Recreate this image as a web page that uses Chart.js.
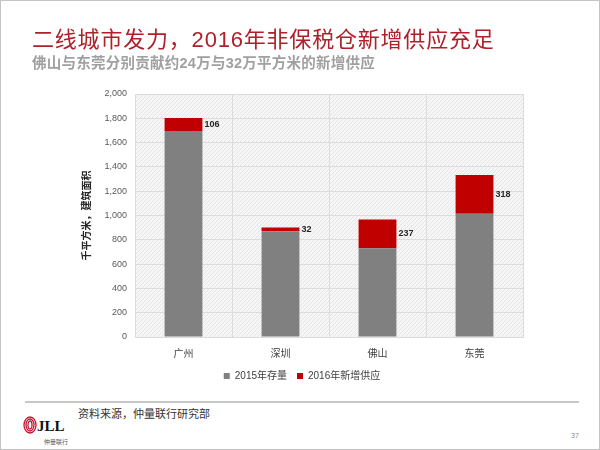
<!DOCTYPE html>
<html>
<head>
<meta charset="utf-8">
<script src="https://cdn.jsdelivr.net/npm/chart.js@4/dist/chart.umd.min.js"></script>
<style>
	html, body { margin: 0; padding: 0; background: #fff; }
	#page {
		position: relative; width: 600px; height: 450px; overflow: hidden;
		box-sizing: border-box; border: 1px solid #c4c4c4;
		font-family: "Liberation Sans", "Noto Sans CJK SC", sans-serif;
	}
	#chartBox { position: absolute; left: 0; top: 0; width: 600px; height: 390px; }
	.txt { position: absolute; white-space: nowrap; line-height: 1; }
	#title { left: 31px; top: 28px; font-size: 22px; letter-spacing: 0.8px; color: #b0202a; }
	#subtitle { left: 31px; top: 55px; font-size: 14.5px; letter-spacing: 0.25px; color: #a0a0a0; font-weight: bold; }
	#rule { position: absolute; left: 24px; top: 400px; width: 554px; height: 2px; background: #c8c8c8; }
	#source { left: 77px; top: 408px; font-size: 11px; color: #333; }
	#logo { position: absolute; left: 22px; top: 415px; }
	#logoSub { left: 43px; top: 438px; font-size: 6px; color: #555; }
	#pageNo { left: 570px; top: 431px; font-size: 7px; color: #888; }
</style>
</head>
<body>
<div id="page">
	<div id="chartBox"><canvas id="supplyChart"></canvas></div>
	<div class="txt" id="title">二线城市发力，2016年非保税仓新增供应充足</div>
	<div class="txt" id="subtitle">佛山与东莞分别贡献约24万与32万平方米的新增供应</div>
	<div id="rule"></div>
	<svg id="logo" width="50" height="18" viewBox="0 0 50 18">
		<ellipse cx="7" cy="9" rx="6" ry="8" fill="none" stroke="#c8102e" stroke-width="1.3"/>
		<ellipse cx="7" cy="9" rx="4" ry="6" fill="none" stroke="#c8102e" stroke-width="1.3"/>
		<ellipse cx="7" cy="9" rx="2" ry="4" fill="none" stroke="#c8102e" stroke-width="1.3"/>
		<text x="14" y="15" font-family="Liberation Serif" font-weight="bold" font-size="15" fill="#111">JLL</text>
	</svg>
	<div class="txt" id="source">资料来源，仲量联行研究部</div>
	<div class="txt" id="logoSub">仲量联行</div>
	<div class="txt" id="pageNo">37</div>
</div>
<script>
const cities = ["广州", "深圳", "佛山", "东莞"];
const stock2015 = [1696, 870, 730, 1015];
const supply2016 = [106, 32, 237, 318];
const seriesNames = ["2015年存量", "2016年新增供应"];
const yAxisTitle = "千平方米，建筑面积";
const yMax = 2000;
const yStep = 200;

const fontFamily = "'Liberation Sans', 'Noto Sans CJK SC', sans-serif";

// light diagonal hatch used behind the bars
function makeHatch() {
	const c = document.createElement("canvas");
	c.width = 4;
	c.height = 4;
	const g = c.getContext("2d");
	g.fillStyle = "#f6f6f6";
	g.fillRect(0, 0, 4, 4);
	g.strokeStyle = "#e4e4e4";
	g.lineWidth = 1;
	g.beginPath();
	g.moveTo(0, 4);
	g.lineTo(4, 0);
	g.stroke();
	return g.createPattern(c, "repeat");
}

const hatchPlugin = {
	id: "hatch",
	beforeDraw(chart) {
		const { ctx, chartArea } = chart;
		ctx.save();
		ctx.fillStyle = makeHatch();
		ctx.fillRect(chartArea.left, chartArea.top, chartArea.right - chartArea.left, chartArea.bottom - chartArea.top);
		ctx.restore();
	}
};

// value of the red segment, written to the right of it
const supplyLabels = {
	id: "supplyLabels",
	afterDatasetsDraw(chart) {
		const ctx = chart.ctx;
		const meta = chart.getDatasetMeta(1);
		ctx.save();
		ctx.font = "bold 9px " + fontFamily;
		ctx.fillStyle = "#262626";
		ctx.textAlign = "left";
		ctx.textBaseline = "middle";
		meta.data.forEach((bar, i) => {
			const p = bar.getProps(["x", "y", "base", "width"], true);
			ctx.fillText(supply2016[i], p.x + p.width / 2 + 2, (p.y + p.base) / 2);
		});
		ctx.restore();
	}
};

const supplyCtx = document.getElementById("supplyChart");
const supplyChart = new Chart(supplyCtx, {
	type: "bar",
	data: {
		labels: cities,
		datasets: [{
			label: seriesNames[0],
			data: stock2015,
			backgroundColor: "#808080",
			barPercentage: 0.78,
			categoryPercentage: 0.5
		}, {
			label: seriesNames[1],
			data: supply2016,
			backgroundColor: "#c00000",
			barPercentage: 0.78,
			categoryPercentage: 0.5
		}]
	},
	options: {
		responsive: true,
		maintainAspectRatio: false,
		animation: false,
		layout: {
			padding: { left: 80, right: 78, top: 93, bottom: 0 }
		},
		scales: {
			x: {
				stacked: true,
				grid: { color: "#dcdcdc", drawTicks: false },
				border: { color: "#dcdcdc" },
				ticks: { color: "#404040", padding: 11, font: { size: 10, family: fontFamily } },
				afterFit(scale) { scale.height = 24; }
			},
			y: {
				stacked: true,
				min: 0,
				max: yMax,
				grid: { color: "#dcdcdc", drawTicks: false },
				border: { color: "#dcdcdc" },
				ticks: {
					stepSize: yStep,
					color: "#595959",
					padding: 8,
					font: { size: 9, family: fontFamily },
					callback: (v) => v.toLocaleString("en-US")
				},
				title: {
					display: true,
					text: yAxisTitle,
					color: "#262626",
					padding: 0,
					font: { size: 10, weight: "bold", family: fontFamily }
				},
				afterFit(scale) { scale.width = 54; }
			}
		},
		plugins: {
			legend: {
				position: "bottom",
				labels: {
					boxWidth: 6,
					boxHeight: 6,
					padding: 10,
					color: "#404040",
					font: { size: 10, family: fontFamily }
				}
			},
			tooltip: { enabled: false }
		}
	},
	plugins: [hatchPlugin, supplyLabels]
});
</script>
</body>
</html>
